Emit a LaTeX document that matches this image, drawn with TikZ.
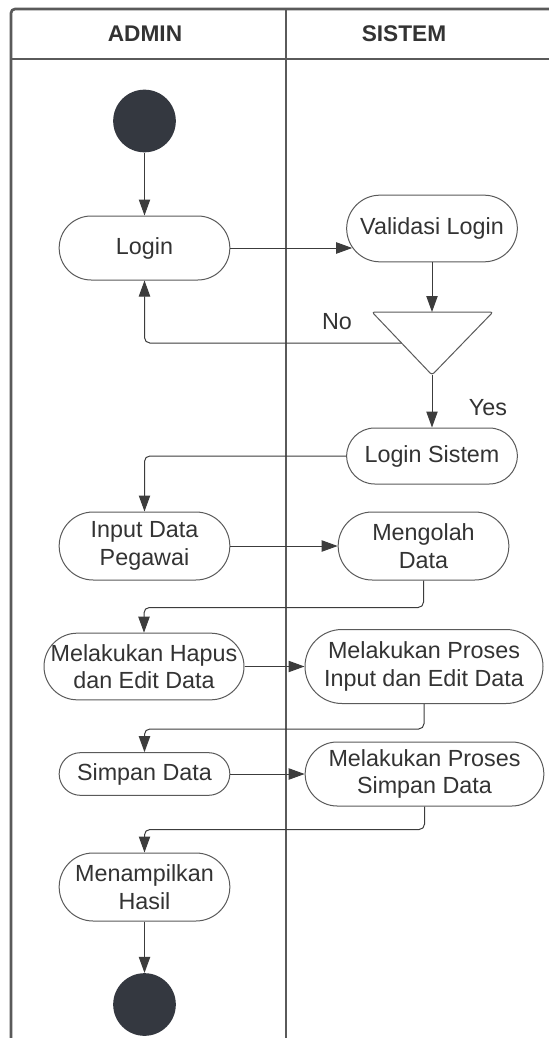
\documentclass[tikz,border=0pt]{standalone}
\usepackage{fontspec}
\setmainfont{Liberation Sans}
\usepackage{tikz}
\usetikzlibrary{arrows.meta,calc,positioning}
\definecolor{framegray}{HTML}{5A5A5A}
\definecolor{linegray}{HTML}{3C3C3C}
\definecolor{dotfill}{HTML}{343840}
\definecolor{textgray}{HTML}{333333}
\tikzstyle{lanebox} = [draw=framegray, line width=2pt]
\tikzstyle{lanetitle} = [text=textgray, font=\fontsize{17}{20}\selectfont\bfseries]
\tikzstyle{dot} = [circle, fill=dotfill, minimum size=47pt, inner sep=0pt]
\tikzstyle{flow} = [draw=linegray, line width=0.75pt, -{Triangle[length=12pt,width=8.5pt]}, rounded corners=4pt]
\tikzstyle{guard} = [text=textgray, font=\fontsize{17.5}{20.5}\selectfont]
\tikzset{actbox/.style={draw=framegray, line width=0.75pt, fill=white, rectangle,
    inner sep=0pt, align=center, text=textgray, font=\fontsize{17.5}{20.5}\selectfont,
    minimum width=128pt, minimum height=#1, rounded corners=0.5*#1}}

\begin{document}
\begin{tikzpicture}[x=0.75pt, y=-0.75pt]
                \clip (0,0) rectangle (549,1038);
                \fill[white] (0,0) rectangle (549,1038);
                \draw[lanebox, rounded corners=3pt] (11,1100) -- (11,9) -- (600,9);
                \draw[lanebox] (11,59) -- (600,59);
                \draw[lanebox] (286,9) -- (286,1100);
                \node[lanetitle] (admin) at (145,34) {ADMIN};
                \node[lanetitle] (sistem) at (404,34) {SISTEM};

                \node[dot] (start) at (144.5,121) {};
                \node[actbox=48pt] (login) at (144.5,248) {Login};
                \node[actbox=50pt] (valid) at (432,228.5) {Validasi Login};
                \coordinate (decL) at (372,312);
                \coordinate (decR) at (493,312);
                \coordinate (decB) at (432,375);
                \coordinate (decT) at (432,312);
                \coordinate (decN) at (401.5,343);
                \draw[draw=framegray, line width=0.75pt, fill=white, rounded corners=2pt] (decL) -- (decR) -- (decB) -- cycle;
                \node[guard] (no) at (337,322) {No};
                \node[guard] (yes) at (488,408) {Yes};
                \node[actbox=42pt] (lsys) at (432,456) {Login Sistem};
                \node[actbox=51pt] (input) at (144.5,546) {Input Data\\Pegawai};
                \node[actbox=51pt] (olah) at (423.5,546) {Mengolah\\Data};
                \node[actbox=50pt, minimum width=150pt] (hapus) at (144,666.5) {Melakukan Hapus\\dan Edit Data};
                \node[actbox=55.5pt, minimum width=178.5pt] (prosesinput) at (424,666.5) {Melakukan Proses\\Input dan Edit Data};
                \node[actbox=32pt] (simpan) at (144.5,774) {Simpan Data};
                \node[actbox=48pt, minimum width=179pt] (prosessimpan) at (424.5,774) {Melakukan Proses\\Simpan Data};
                \node[actbox=51pt] (tampil) at (144.5,887) {Menampilkan\\Hasil};
                \node[dot] (end) at (144.5,1004.5) {};

                \draw[flow] (start) -- (login);
                \draw[flow] (login.east) -- ($(login.east -| valid.west)+(6,0)$);
                \draw[flow] (valid) -- (decT);
                \draw[flow] (decN) -| (login);
                \draw[flow] (decB) -- (lsys);
                \draw[flow] (lsys.west) -| (input);
                \draw[flow] (input) -- (olah);
                \draw[flow] (olah.south) -- ++(0,27) -| (hapus);
                \draw[flow] (hapus) -- (prosesinput);
                \draw[flow] (prosesinput.south) -- ++(0,25) -| (simpan);
                \draw[flow] (simpan) -- (prosessimpan);
                \draw[flow] (prosessimpan.south) -- ++(0,23) -| (tampil);
                \draw[flow] (tampil) -- (end);
\end{tikzpicture}
\end{document}
